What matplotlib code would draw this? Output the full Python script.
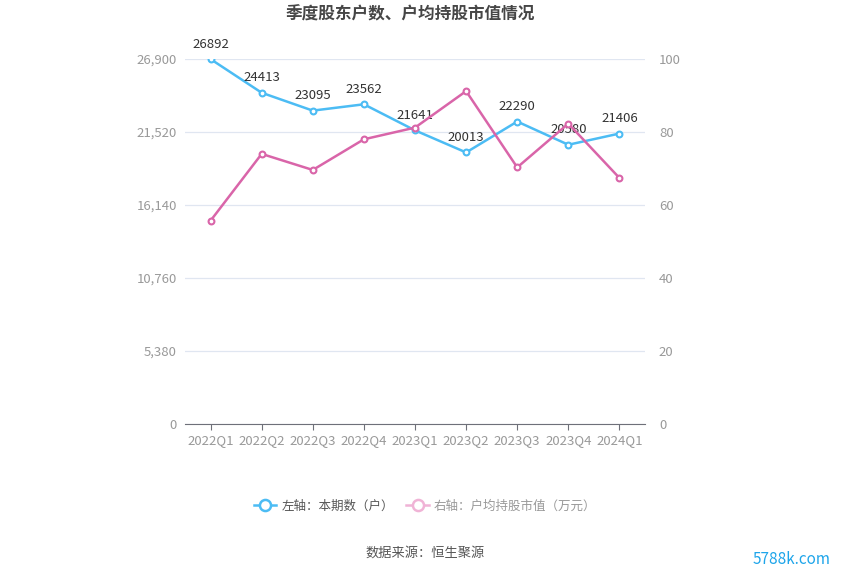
import matplotlib
matplotlib.use('Agg')
import matplotlib.pyplot as plt
from matplotlib.lines import Line2D

plt.rcParams['font.family'] = ['Noto Sans CJK SC', 'DejaVu Sans']

quarters = ['2022Q1', '2022Q2', '2022Q3', '2022Q4', '2023Q1', '2023Q2', '2023Q3', '2023Q4', '2024Q1']
holders = [26892, 24413, 23095, 23562, 21641, 20013, 22290, 20580, 21406]
avg_value = [55.7, 74.0, 69.6, 78.0, 81.2, 91.2, 70.3, 82.3, 67.4]
left_ticks = [0, 5380, 10760, 16140, 21520, 26900]
right_ticks = [0, 20, 40, 60, 80, 100]

BLUE = '#4cbcf4'
PINK = '#d965a9'
GRID = '#e0e6f1'

fig = plt.figure(figsize=(8.5, 5.75), dpi=100)
ax = fig.add_axes([185/850, 1-424/575, 460/850, 365/575])
ax2 = ax.twinx()

x = list(range(len(quarters)))
ax.plot(x, holders, color=BLUE, lw=1.8, marker='o', ms=4.2, mfc='white', mew=1.5, zorder=3)
for xi, v in zip(x, holders):
    ax.annotate(str(v), (xi, v), xytext=(0, 6), textcoords='offset points',
                ha='center', va='bottom', fontsize=9.5, color='#333333')
ax2.plot(x, avg_value, color=PINK, lw=1.8, marker='o', ms=4.2, mfc='white', mew=1.5, zorder=3)

ax.set_xlim(-0.5, len(quarters) - 0.5)
ax.set_ylim(0, 26900)
ax2.set_ylim(0, 100)
ax.set_yticks(left_ticks)
ax.set_yticklabels([f'{t:,}' for t in left_ticks])
ax2.set_yticks(right_ticks)
ax.set_xticks(x)
ax.set_xticklabels(quarters)

for a in (ax, ax2):
    for s in a.spines.values():
        s.set_visible(False)
ax.spines['bottom'].set_visible(True)
ax.spines['bottom'].set_color('#6e7079')
ax.grid(axis='y', color=GRID, lw=0.9)
ax.set_axisbelow(True)
ax.tick_params(axis='x', length=4, color='#6e7079', labelsize=9.5, labelcolor='#999999', pad=3)
ax.tick_params(axis='y', length=0, labelsize=9.5, labelcolor='#999999', pad=6)
ax2.tick_params(axis='y', length=0, labelsize=9.5, labelcolor='#999999', pad=10)

fig.text(410/850, 1-14/575, '季度股东户数、户均持股市值情况', ha='center', va='center',
         fontsize=12, fontweight='bold', color='#464646')

handles = [
    Line2D([], [], color=BLUE, lw=1.8, marker='o', ms=8, mfc='white', mew=1.8),
    Line2D([], [], color='#f0b3d6', lw=1.8, marker='o', ms=8, mfc='white', mew=1.8),
]
leg = fig.legend(handles, ['左轴：本期数（户）', '右轴：户均持股市值（万元）'],
                 loc='center', bbox_to_anchor=(425/850, 1-506/575), ncol=2, frameon=False,
                 fontsize=9, handlelength=1.8, columnspacing=1.0, handletextpad=0.4)
leg.get_texts()[0].set_color('#555555')
leg.get_texts()[1].set_color('#999999')

fig.text(425/850, 1-553/575, '数据来源：恒生聚源', ha='center', va='center', fontsize=9.5, color='#555555')
fig.text(792/850, 1-560/575, '5788k.com', ha='center', va='center', fontsize=11, color='#1ea5ea')

fig.savefig('out.png', dpi=100)
